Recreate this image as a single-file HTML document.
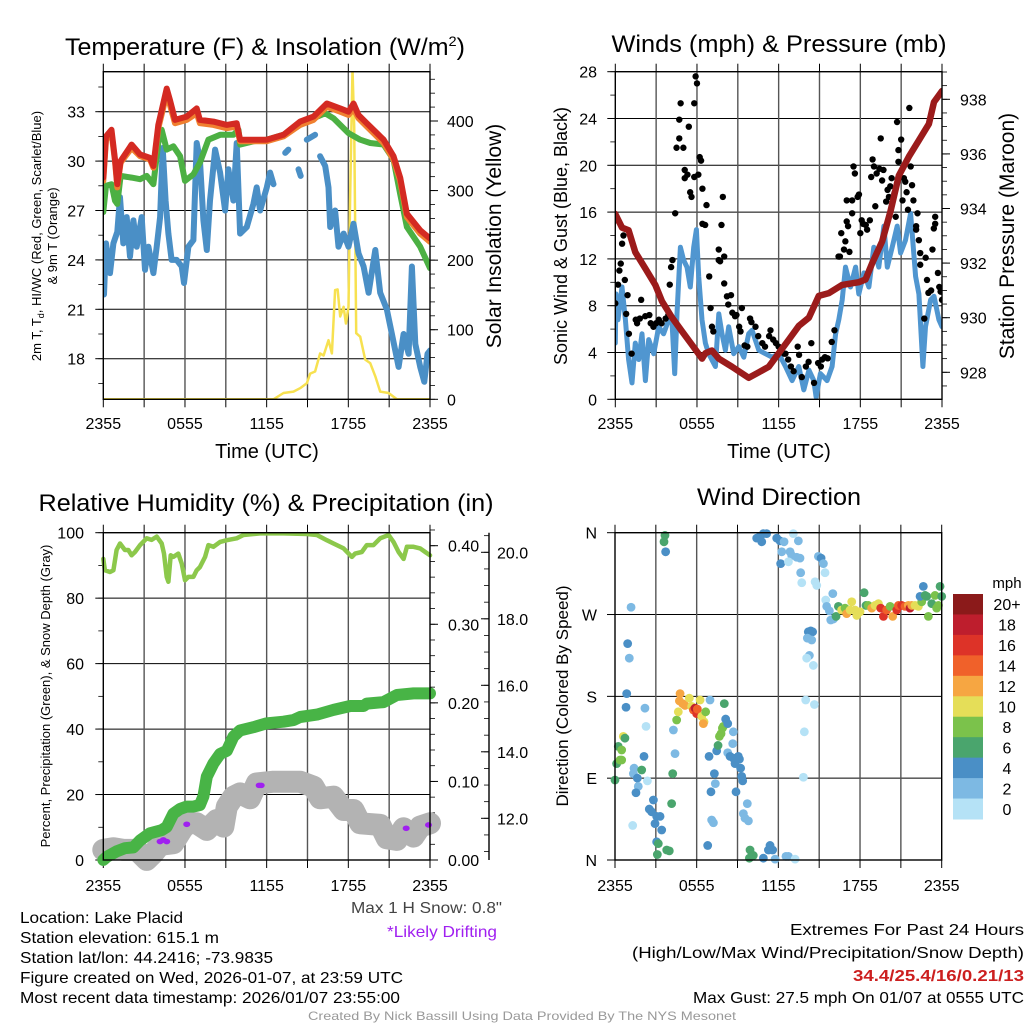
<!DOCTYPE html>
<html><head><meta charset="utf-8"><style>
html,body{margin:0;padding:0;background:#fff;}
svg{display:block;font-family:"Liberation Sans",sans-serif;}
</style></head><body>
<svg id="chart" width="1024" height="1024" viewBox="0 0 1024 1024" xmlns="http://www.w3.org/2000/svg">
<defs>
<clipPath id="c1"><rect x="103.3" y="71.7" width="326.7" height="327.6"/></clipPath>
<clipPath id="c2"><rect x="615.3" y="71.7" width="326.7" height="327.6"/></clipPath>
<clipPath id="c3"><rect x="90" y="532.7" width="352" height="340"/></clipPath>
</defs>
<text x="65" y="55" font-size="24" textLength="400" lengthAdjust="spacingAndGlyphs">Temperature (F) &amp; Insolation (W/m<tspan dy="-9" font-size="14">2</tspan><tspan dy="9">)</tspan></text>
<text x="779" y="52" font-size="24" text-anchor="middle" textLength="335" lengthAdjust="spacingAndGlyphs">Winds (mph) &amp; Pressure (mb)</text>
<text x="266" y="511" font-size="24" text-anchor="middle" textLength="455" lengthAdjust="spacingAndGlyphs">Relative Humidity (%) &amp; Precipitation (in)</text>
<text x="779" y="505" font-size="24" text-anchor="middle" textLength="164" lengthAdjust="spacingAndGlyphs">Wind Direction</text>

<text transform="translate(41,236) rotate(-90)" font-size="13" text-anchor="middle">2m T, T<tspan font-size="9" dy="3">d</tspan><tspan dy="-3">, HI/WC (Red, Green, Scarlet/Blue)</tspan></text>
<text transform="translate(57,236) rotate(-90)" font-size="13" text-anchor="middle">&amp; 9m T (Orange)</text>
<text transform="translate(501,236) rotate(-90)" font-size="21" text-anchor="middle">Solar Insolation (Yellow)</text>
<text x="267" y="458" font-size="20" text-anchor="middle">Time (UTC)</text>
<text transform="translate(567,236) rotate(-90)" font-size="18" text-anchor="middle">Sonic Wind &amp; Gust (Blue, Black)</text>
<text transform="translate(1014,236) rotate(-90)" font-size="21" text-anchor="middle">Station Pressure (Maroon)</text>
<text x="779" y="458" font-size="20" text-anchor="middle">Time (UTC)</text>
<text transform="translate(50,696) rotate(-90)" font-size="13" text-anchor="middle">Percent, Precipitation (Green), &amp; Snow Depth (Gray)</text>
<text transform="translate(568,696) rotate(-90)" font-size="17" text-anchor="middle">Direction (Colored By Speed)</text>

<g font-size="16">
<text x="20" y="923" textLength="163" lengthAdjust="spacingAndGlyphs">Location: Lake Placid</text>
<text x="20" y="943" textLength="199" lengthAdjust="spacingAndGlyphs">Station elevation: 615.1 m</text>
<text x="20" y="963" textLength="253" lengthAdjust="spacingAndGlyphs">Station lat/lon: 44.2416; -73.9835</text>
<text x="20" y="983" textLength="383" lengthAdjust="spacingAndGlyphs">Figure created on Wed, 2026-01-07, at 23:59 UTC</text>
<text x="20" y="1003" textLength="380" lengthAdjust="spacingAndGlyphs">Most recent data timestamp: 2026/01/07 23:55:00</text>
<text x="351" y="913" fill="#444" textLength="151" lengthAdjust="spacingAndGlyphs">Max 1 H Snow: 0.8"</text>
<text x="387" y="937" fill="#a020f0" textLength="110" lengthAdjust="spacingAndGlyphs">*Likely Drifting</text>
<text x="790" y="935" textLength="234" lengthAdjust="spacingAndGlyphs">Extremes For Past 24 Hours</text>
<text x="632" y="958" textLength="392" lengthAdjust="spacingAndGlyphs">(High/Low/Max Wind/Precipitation/Snow Depth)</text>
<text x="853" y="981" fill="#cc1f1f" font-weight="bold" textLength="171" lengthAdjust="spacingAndGlyphs">34.4/25.4/16/0.21/13</text>
<text x="693" y="1003" textLength="331" lengthAdjust="spacingAndGlyphs">Max Gust: 27.5 mph On 01/07 at 0555 UTC</text>
</g>
<text x="308" y="1020" font-size="12" fill="#999" textLength="428" lengthAdjust="spacingAndGlyphs">Created By Nick Bassill Using Data Provided By The NYS Mesonet</text>
<g id="layer"></g>
</svg>
<script>
// ---------- DATA ----------
const timeTicks = [0, 6, 12, 18, 24];
const timeTickLabels = ["2355", "0555", "1155", "1755", "2355"];
const tempTicks = [18, 21, 24, 27, 30, 33];
const insolTicks = [0, 100, 200, 300, 400];
const windTicks = [0, 4, 8, 12, 16, 20, 24, 28];
const presTicks = [928, 930, 932, 934, 936, 938];
const rhTicks = [0, 20, 40, 60, 80, 100];
const precipTicks = [0, 0.1, 0.2, 0.3, 0.4];
const precipTickLabels = ["0.00", "0.10", "0.20", "0.30", "0.40"];
const snowTicks = [12, 14, 16, 18, 20];
const snowTickLabels = ["12.0", "14.0", "16.0", "18.0", "20.0"];
const dirTicks = [0, 90, 180, 270, 360];
const dirTickLabels = ["N", "E", "S", "W", "N"];

const redHours = [0,0.2,0.6,0.86,1.03,1.27,2.08,2.7,3.43,3.68,4.04,4.66,4.9,5.27,6.13,6.86,7.1,8.09,9.07,9.8,10.05,11.03,12.0,13.24,14.46,15.44,16.42,17.4,18.01,18.38,18.75,19.36,20.59,21.32,21.81,22.3,23.28,24];
const redTemp = [29.0,31.5,31.9,30.1,28.6,30.0,31.0,30.4,30.2,29.7,32.2,34.4,33.7,32.5,32.7,33.2,32.5,32.4,32.2,32.3,31.3,31.3,31.3,31.6,32.4,32.7,33.5,33.2,33.0,33.5,32.8,32.3,31.3,30.3,29.0,26.8,25.8,25.3];
const orangeTemp = [28.8,31.3,31.7,30.0,28.4,29.9,30.8,30.3,30.1,29.6,32.0,34.1,33.4,32.3,32.5,32.9,32.3,32.2,32.0,32.1,31.2,31.2,31.2,31.5,32.2,32.5,33.3,33.0,32.8,33.2,32.6,32.1,31.1,30.1,28.8,26.6,25.6,25.1];
const greenHours = [0,0.2,0.6,0.86,1.03,1.27,2.08,2.7,3.19,3.68,4.04,4.29,4.66,5.15,5.64,6.0,6.62,7.1,7.72,8.58,9.56,9.93,10.05,11.03,12.0,13.24,14.46,15.44,16.3,16.91,18.01,18.87,19.61,20.59,21.32,21.81,22.3,23.28,24];
const greenTemp = [26.9,28.5,28.6,27.6,27.4,29.1,29.0,28.9,29.1,28.6,31.1,31.9,30.7,30.9,30.3,28.8,29.2,29.9,31.3,31.6,31.6,31.9,31.0,31.2,31.3,31.6,32.2,32.6,32.9,32.6,31.7,31.3,31.1,31.0,30.1,28.0,26.0,24.8,23.5];
const blueHours = [0,0.05,0.2,0.49,0.74,1.03,1.23,1.47,1.72,1.96,2.21,2.45,2.82,3.06,3.31,3.68,3.92,4.17,4.36,4.58,4.78,5.02,5.39,5.76,5.93,6.25,6.62,6.86,7.1,7.35,7.6,7.84,8.21,8.58,8.95,9.19,9.56,9.8,10.05,10.54,11.03,11.27,11.52,12.01,12.25,12.5,12.9,13.36,13.6,14.0,14.34,14.5,14.8,14.95,15.56,15.8,15.93,16.3,16.54,16.67,17.03,17.28,17.65,18.01,18.38,18.75,19.12,19.49,19.98,20.34,20.83,21.2,21.69,22.06,22.43,22.67,22.92,23.28,23.58,23.82,24];
const blueTemp = [23.8,21.9,25.0,23.2,25,25.7,27.8,25,26.6,24.2,26.4,24.8,26.6,23.4,24.8,23.2,24.8,26.6,30.8,27.6,25.6,24,24,23.6,22.6,24.8,25.2,31.1,30.1,26.4,24.6,27.6,30.7,29.3,27,29.5,27.6,31.1,25.6,26,27.4,28.4,27,28.4,29.3,28.6,null,30.5,30.7,null,29.5,29.1,null,31.3,31.6,null,30.3,29.7,28.4,26,27,24.8,25.6,24.8,26.2,24.4,23.6,22,24.6,22,21,19.5,17.5,19.5,18.3,23.6,18.9,17.5,16.6,18.3,18.5];
const insolHours = [0,12.5,13.24,13.97,14.46,14.95,15.2,15.56,15.93,16.18,16.54,16.79,17.03,17.21,17.4,17.65,17.82,18.01,18.14,18.31,18.43,18.58,18.87,19.24,19.61,19.98,20.34,20.96,21.57,24];
const insolValues = [0,0,9,11,16,23,37,40,66,63,85,66,157,158,119,133,109,133,296,475,392,95,90,57,52,33,11,9,0,0];

const windHours = [0,0.05,0.2,0.49,0.74,0.98,1.23,1.47,1.72,1.96,2.21,2.45,2.82,3.19,3.55,3.92,4.17,4.36,4.53,4.78,5.02,5.27,5.51,5.76,5.96,6.13,6.37,6.62,6.86,7.35,7.6,7.84,8.09,8.33,8.7,9.07,9.44,9.8,10.05,10.54,11.03,11.52,12.01,12.5,12.99,13.48,13.85,14.22,14.58,14.75,15.07,15.56,15.93,16.18,16.42,16.67,16.91,17.28,17.65,17.89,18.26,18.63,18.99,19.36,19.73,19.98,20.34,20.71,20.96,21.32,21.69,22.06,22.3,22.6,22.79,23.16,23.41,23.77,24];
const windSpeed = [4.8,9,6.8,9.6,6.8,3.4,1.4,4.8,3.4,5.6,1.6,5.1,3.9,6.2,5.6,6.8,6.5,2.2,7.3,13,11.9,11.3,9.6,13,14.5,10.5,6.8,4.8,3.9,2.8,7.3,5.6,4.2,6.2,3.9,4.5,3.6,5.6,5.9,4.2,3.9,3.6,3.9,2.8,1.6,2.8,0.8,2.5,1.6,0.2,2.2,1.6,2.8,5.6,6.8,8.5,11.3,9.6,11.3,9,10.8,9.6,13,11.3,14.8,11.3,13,14.8,12.5,13.6,15.9,10.5,9,2.8,6.2,8.5,8.8,6.8,6.2];
const presHours = [0,0.49,0.98,1.47,2.21,2.94,3.43,4.17,4.9,5.64,6.37,6.62,7.1,7.6,8.58,9.8,10.54,11.27,12.01,12.75,13.48,14.22,14.95,15.69,16.67,17.89,18.38,18.87,19.61,20.22,20.83,21.57,22.3,23.04,23.41,24];
const presValues = [933.8,933.3,933.2,932.4,931.8,931.2,930.6,930.0,929.5,929.0,928.5,928.7,928.8,928.5,928.2,927.8,928.0,928.2,928.7,929.2,929.7,930.0,930.8,930.9,931.2,931.3,931.4,932.0,932.8,933.9,935.2,935.9,936.5,937.1,937.9,938.3];
const gustHours = [0,0,0.2,0.3,0.4,0.5,0.6,0.7,0.9,0.8,1,1.2,1.5,1.6,1.9,1.8,2.2,2.5,2.6,2.8,3.0,3.2,3.4,3.7,3.9,4.0,4.1,4.2,4.4,4.5,4.7,4.7,4.8,5.0,5.1,5.1,5.3,5.4,5.5,5.6,5.8,5.8,5.9,6.0,6.1,6.2,6.3,6.4,6.4,6.6,6.7,6.9,7.0,7.1,7.2,7.6,7.6,7.7,7.8,7.9,8.0,8.0,8.2,8.3,8.5,8.6,8.8,8.9,9.1,9.2,9.3,9.5,9.7,9.9,10.0,10.3,10.5,10.8,11.0,11.3,11.4,11.6,11.8,12.0,12.4,12.5,12.7,12.9,13.1,13.4,13.5,13.7,14.0,14.2,14.4,14.6,14.9,15.1,15.2,15.4,15.6,15.9,16.1,16.4,16.5,16.6,16.8,16.9,17.0,17.1,17.4,17.0,17.2,17.4,17.5,17.6,17.8,17.9,18.0,18.1,18.2,18.4,18.5,18.7,18.8,18.9,19.0,19.1,19.2,19.4,19.5,19.6,19.7,19.9,20.0,20.1,20.2,20.3,20.5,20.6,20.7,20.8,20.8,21.0,21.1,21.2,21.3,21.4,21.5,21.6,21.7,21.8,21.9,22.1,22.1,22.2,22.3,22.4,22.4,22.8,22.9,23.0,23.2,23.3,23.4,23.5,23.5,23.7,23.8,23.9,24.0,22.7];
const gustSpeed = [8.2,15.3,9.8,11,11.6,13.3,14,10.2,8.9,7.3,5.6,3.9,6.8,6.5,8.5,6.9,7.1,7.2,6.5,6.2,6.5,6.8,6.5,6.9,7.2,9.8,11.3,11.9,15.9,21.5,22.3,23.9,25.3,21.5,19.6,18.9,19.2,23.3,17.7,17.3,19,25.3,27.6,27,19.2,20.7,20.4,18,15,14.9,16.6,10.5,7.8,6.2,5.8,12.8,11.9,11.8,14.9,17.3,12.2,9.9,8.8,8.1,8.9,7.4,7.1,7.2,6.2,5.8,7.8,4.6,4.5,6.9,6.6,6.2,5.4,4.8,4.5,5.4,5.9,5.1,4.8,4.5,3.9,3.9,3.4,2.8,2.4,4.5,3.8,1.9,2.8,3.2,4.8,1.4,3.1,2.8,3.4,3.6,3.5,4.9,5.9,12.2,12.2,14.2,12.8,13.5,15.2,14.8,15.9,17,12.6,17,19.9,19.3,17.3,17.5,14.2,15.3,15,14.9,14.5,15.3,19,20.5,19.9,16.5,19.3,19.7,22.3,18.7,19.6,16.9,17.9,17.3,18.2,18.9,17.6,15.6,23.7,21.3,20.3,22.2,17,18.9,18.6,17.7,16.2,24.9,19.9,18.3,17,14.5,14.8,15.9,13.6,12.5,11.5,12.1,10.2,9.1,9.3,12.8,14.6,15,15.6,10.8,9.6,9.2,8.5,6.9];

const rhHours = [0,0.12,0.49,0.74,0.98,1.23,1.59,1.84,2.08,2.33,2.7,3.19,3.55,3.92,4.29,4.46,4.66,4.78,4.95,5.15,5.51,5.76,6.0,6.25,6.62,6.86,7.1,7.48,7.72,8.09,8.58,9.07,9.8,10.29,11.52,13.24,14.95,15.69,16.42,16.91,17.65,18.26,18.5,18.99,19.36,19.85,20.34,20.96,21.32,21.69,22.06,22.3,22.79,23.28,23.65,24];
const rhValues = [92,88.5,88,88.5,94.7,96.7,94.7,94.7,93.1,94.1,96.2,98.3,97.8,98.8,96.7,93.6,86.5,85,93.1,92.6,93.6,90.6,85.5,86.5,86.5,88.5,89.5,92.6,96.2,95.7,97.2,97.7,98.3,99.3,99.8,99.8,99.6,99.3,97.7,96.7,95.2,92.6,93.6,94.1,96.2,96.2,98.3,99.3,97.2,94.1,92,95.7,95.7,95.2,94.1,93.1];
const precipHours = [0,0.25,0.98,1.59,2.21,2.7,3.43,4.29,4.66,5.15,5.64,6.13,6.62,7.1,7.35,7.6,8.09,8.58,9.07,9.56,10.05,11.03,12.01,13.24,13.97,14.46,15.69,16.91,18.14,19.12,19.36,20.59,21.57,22.79,24];
const precipValues = [0,0.004,0.011,0.015,0.016,0.025,0.034,0.038,0.042,0.059,0.065,0.068,0.068,0.07,0.081,0.106,0.123,0.135,0.139,0.157,0.165,0.169,0.174,0.176,0.178,0.182,0.185,0.191,0.196,0.196,0.199,0.201,0.21,0.212,0.212];
const snowHours = [0,0.74,1.47,2.45,3.19,3.68,4.17,5.15,5.76,6.13,6.86,7.6,8.33,8.82,9.07,9.56,10.05,10.78,11.27,12.5,14.46,15.44,15.93,16.91,17.65,18.38,18.87,20.34,20.83,21.57,22.06,22.79,23.28,24];
const snowValues = [11.05,11.1,11.05,11.05,10.75,10.95,11.2,11.25,11.65,11.85,11.85,11.65,11.95,11.75,12.35,12.65,12.75,12.6,13.05,13.1,13.1,12.95,12.6,12.65,12.25,12.25,11.85,11.8,11.4,11.35,11.7,11.45,11.75,11.85];
const driftHours = [4.17,4.41,4.66,6.13,11.45,11.6,22.25,23.89];
const driftSnow = [11.3,11.35,11.3,11.82,12.99,12.99,11.7,11.8];

const dirHours = [0,0.12,0.24,0.49,0.37,0.49,0.61,0.73,0.86,0.81,0.93,1.05,1.18,1.4,1.35,1.64,1.71,1.54,1.96,2.13,2.2,2.28,2.38,1.3,2.52,2.69,2.82,3.06,3.31,2.94,3.43,3.06,3.18,3.11,3.8,3.99,3.67,3.6,3.72,4.16,4.24,4.29,4.41,4.53,4.65,4.78,4.73,4.97,5.14,5.46,5.63,5.76,5.88,6.0,6.05,6.25,6.37,6.54,6.66,6.49,6.98,6.91,7.1,7.23,7.3,7.37,7.05,6.81,7.47,7.57,7.67,7.79,7.89,7.96,8.03,8.13,8.28,8.69,8.65,8.28,8.45,8.69,8.82,9.06,9.14,9.23,9.31,9.38,8.89,9.72,9.43,9.55,9.8,9.92,10.04,10.16,9.87,10.9,11.27,11.39,11.58,11.76,12.56,12.74,13.23,
10.41,10.65,10.9,11.14,10.78,11.88,12.12,12.42,13.1,13.47,12.25,12.17,12.86,12.98,12.74,13.35,13.59,13.64,13.72,14.7,14.82,14.94,15.14,15.31,15.43,16.0,15.48,15.55,15.75,15.85,16.04,16.24,16.41,16.65,16.9,17.02,17.27,17.39,17.63,17.76,18.0,18.3,18.44,18.61,18.86,19.1,19.35,19.52,19.72,19.96,20.21,20.4,20.7,20.82,21.06,21.31,21.55,21.67,21.8,22.04,22.29,22.53,22.41,22.65,22.78,22.9,23.02,23.27,23.51,23.63,23.88,24.0,23.76,
14.2,14.38,14.52,14.13,14.45,14.28,14.08,14.57,14.01,14.65,13.91,13.84];
const dirDeg = [88,106,125,121,110,110,136,134,183,168,238,222,278,101,95,90,81,74,99,114,167,147,87,38,56,53,66,48,48,40,33,20,18,6,11,10,357,350,339,62,95,143,117,154,163,183,175,172,170,178,169,165,167,161,166,176,158,152,163,150,176,114,44,41,95,84,75,16,120,126,136,139,145,147,172,155,150,141,128,118,114,112,106,114,111,101,92,87,75,62,51,46,43,11,4,5,2,2,11,16,11,1,4,4,1,
354,356,359,359,350,354,351,350,359,351,339,326,339,335,328,333,332,316,305,306,302,334,332,326,316,293,286,279,274,264,265,268,279,275,277,271,275,284,275,269,273,294,280,280,277,280,282,277,268,275,279,268,275,280,280,279,280,277,280,280,279,284,290,301,291,290,268,282,291,277,301,290,280,
251,252,251,244,242,225,222,214,176,171,141,91];
const dirSpeed = [7,6,6,8,8,8,10,6,4,4,4,2,2,2,2,4,2,4,6,4,2,1,1,1,4,4,4,4,4,4,4,4,6,6,6,6,6,6,4,6,6,2,2,8,10,13,12,13,12,10,10,14,18,16,14,10,10,10,8,12,2,4,2,2,4,2,4,4,4,6,8,8,8,8,6,4,4,2,2,2,4,4,4,4,4,4,4,4,4,2,2,2,2,6,6,6,6,4,4,4,4,2,2,2,1,
4,4,4,4,4,4,4,2,1,2,2,4,2,2,1,2,2,2,1,1,1,2,4,2,1,2,1,2,2,2,2,6,6,10,8,12,10,10,10,10,10,6,6,8,12,10,10,16,16,14,8,12,16,14,16,14,12,18,12,10,10,8,4,4,6,6,8,6,8,8,6,6,8,
4,4,4,2,2,2,1,1,1,1,1,1];
const speedColors = ["#b5e2f6","#7db9e3","#4a8fc6","#4aa56d","#7bc24b","#e5de58","#f6a642","#f0612a","#dd3328","#be1e2d","#8b1a1a"];
const colorbarLabels = ["0","2","4","6","8","10","12","14","16","18","20+"];

// ---------- HELPERS ----------
const NS = "http://www.w3.org/2000/svg";
const layer = document.getElementById("layer");
function el(tag, attrs, parent) {
  const e = document.createElementNS(NS, tag);
  for (const k in attrs) e.setAttribute(k, attrs[k]);
  (parent || layer).appendChild(e);
  return e;
}
function linScale(d0, d1, r0, r1) { return v => r0 + (v - d0) / (d1 - d0) * (r1 - r0); }
function pathD(xs, ys, sx, sy) {
  let d = "", pen = false;
  for (let i = 0; i < Math.min(xs.length, ys.length); i++) {
    if (ys[i] === null) { pen = false; continue; }
    d += (pen ? "L" : "M") + sx(xs[i]).toFixed(1) + "," + sy(ys[i]).toFixed(1);
    pen = true;
  }
  return d;
}
function drawFrame(x0, x1, y0, y1, name) {
  const r = el("rect", {x: x0, y: y0, width: x1 - x0, height: y1 - y0, fill: "none", stroke: "#000", "stroke-width": 1.4});
  
  
}
function vGrid(x0, x1, y0, y1, sx, name) {
  const g = el("g", {});
  
  
  for (let h = 3; h < 24; h += 3) {
    el("line", {x1: sx(h), x2: sx(h), y1: y0, y2: y1, stroke: "#555", "stroke-width": 1.4}, g);
  }
  for (let h = 0; h <= 24; h += 3) {
    el("line", {x1: sx(h), x2: sx(h), y1: y0 - 8, y2: y0, stroke: "#000", "stroke-width": 1}, g);
    el("line", {x1: sx(h), x2: sx(h), y1: y1, y2: y1 + 8, stroke: "#000", "stroke-width": 1}, g);
  }
}
function hGrid(vals, sy, x0, x1, name) {
  const g = el("g", {});
  
  
  vals.forEach(v => el("line", {x1: x0, x2: x1, y1: sy(v), y2: sy(v), stroke: "#000", "stroke-width": 1}, g));
}
function yAxis(ticks, labels, sy, ax, dir, minorStep, lo, hi, name, labelX, anchor) {
  const g = el("g", {});
  
  
  ticks.forEach((v, i) => {
    el("line", {x1: ax, x2: ax + dir * 8, y1: sy(v), y2: sy(v), stroke: "#000", "stroke-width": 1}, g);
    const t = el("text", {x: labelX, y: sy(v) + 6, "font-size": 16, "text-anchor": anchor}, g);
    t.textContent = labels[i];
  });
  if (minorStep) {
    for (let v = Math.ceil(lo / minorStep) * minorStep; v <= hi + 1e-9; v += minorStep) {
      el("line", {x1: ax, x2: ax + dir * 5, y1: sy(v), y2: sy(v), stroke: "#000", "stroke-width": 0.8}, g);
    }
  }
}
function xLabels(sx, y, name) {
  const g = el("g", {});
  
  
  timeTicks.forEach((h, i) => {
    const t = el("text", {x: sx(h), y: y, "font-size": 16, "text-anchor": "middle"}, g);
    t.textContent = timeTickLabels[i];
  });
}
function series(xs, ys, sx, sy, color, w, clip, name) {
  const p = el("path", {d: pathD(xs, ys, sx, sy), fill: "none", stroke: color, "stroke-width": w, "stroke-linejoin": "round", "stroke-linecap": "round", "clip-path": clip ? "url(#" + clip + ")" : ""});
  
  
  return p;
}

// ---------- PANEL 1 ----------
const x1s = linScale(0, 24, 103.3, 430);
const t1s = linScale(33, 18, 111.7, 358.7);
const i1s = linScale(0, 400, 399.3, 121);
hGrid(tempTicks, t1s, 103.3, 430, "temp-h-grid");
vGrid(103.3, 430, 71.7, 399.3, x1s, "temp-v-grid");
yAxis(tempTicks, tempTicks.map(String), t1s, 103.3, -1, 1.5, 15.6, 35.4, "temp-y-axis", 85, "end");
yAxis(insolTicks, insolTicks.map(String), i1s, 430, 1, 20, 0, 470, "insolation-y-axis", 447, "start");
xLabels(x1s, 429, "temp-x-axis");
series(insolHours, insolValues, x1s, i1s, "#f7e150", 2.5, "c1", "insolation-line");
series(blueHours, blueTemp, x1s, t1s, "#4a8fc6", 6, "c1", "windchill-line");
series(greenHours, greenTemp, x1s, t1s, "#4cb043", 6, "c1", "dewpoint-line");
series(redHours, orangeTemp, x1s, t1s, "#f08030", 6, "c1", "temp-9m-line");
series(redHours, redTemp, x1s, t1s, "#d42a22", 6, "c1", "temp-2m-line");
drawFrame(103.3, 430, 71.7, 399.3, "temp-plot-frame");

// ---------- PANEL 2 ----------
const x2s = linScale(0, 24, 615.3, 942);
const w2s = linScale(0, 28, 399.3, 71.7);
const p2s = linScale(938, 928, 99.3, 372.3);
hGrid(windTicks.slice(1, 7), w2s, 615.3, 942, "wind-h-grid");
vGrid(615.3, 942, 71.7, 399.3, x2s, "wind-v-grid");
yAxis(windTicks, windTicks.map(String), w2s, 615.3, -1, 2, 0, 28, "wind-y-axis", 597, "end");
yAxis(presTicks, presTicks.map(String), p2s, 942, 1, 0.5, 927.1, 939, "pressure-y-axis", 960, "start");
xLabels(x2s, 429, "wind-x-axis");
series(windHours, windSpeed, x2s, w2s, "#5096d0", 5, "c2", "wind-speed-line");
const gustG = el("g", {"clip-path": "url(#c2)"});


for (let i = 0; i < gustHours.length; i++) {
  const c = el("circle", {cx: x2s(gustHours[i]), cy: w2s(gustSpeed[i]), r: 3.2, fill: "#000"}, gustG);
  
  
}
series(presHours, presValues, x2s, p2s, "#9b1b1b", 6.5, "c2", "pressure-line");
drawFrame(615.3, 942, 71.7, 399.3, "wind-plot-frame");

// ---------- PANEL 3 ----------
const x3s = linScale(0, 24, 103.3, 430);
const r3s = linScale(0, 100, 860, 532.7);
const pr3s = linScale(0, 0.4, 860, 545.7);
const s3s = linScale(20, 12, 552.3, 818.3);
hGrid([20, 40, 60, 80], r3s, 103.3, 430, "rh-h-grid");
vGrid(103.3, 430, 532.7, 860, x3s, "rh-v-grid");
yAxis(rhTicks, rhTicks.map(String), r3s, 103.3, -1, 10, 0, 100, "rh-y-axis", 84, "end");
yAxis(precipTicks, precipTickLabels, pr3s, 430, 1, 0.02, 0, 0.42, "precip-y-axis", 448, "start");
const sAx = el("line", {x1: 489, x2: 489, y1: 532.7, y2: 860, stroke: "#000", "stroke-width": 1.4});


yAxis(snowTicks, snowTickLabels, s3s, 489, -1, 0.5, 10.8, 20.5, "snow-y-axis", 497, "start");
xLabels(x3s, 891, "rh-x-axis");
series(snowHours, snowValues, x3s, s3s, "#b3b3b3", 22, "c3", "snow-depth-line");
series(precipHours, precipValues, x3s, pr3s, "#48b446", 12, "c3", "precip-line");
series(rhHours, rhValues, x3s, r3s, "#8cc84b", 4.5, "c3", "rh-line");
const driftG = el("g", {});


for (let i = 0; i < driftHours.length; i++) {
  const c = el("ellipse", {cx: x3s(driftHours[i]), cy: s3s(driftSnow[i]), rx: 3.5, ry: 2.8, fill: "#a020f0"}, driftG);
  
  
}
drawFrame(103.3, 430, 532.7, 860, "rh-plot-frame");

// ---------- PANEL 4 ----------
const x4s = linScale(0, 24, 615, 941.7);
const d4s = linScale(0, 360, 860, 532.7);
hGrid([90, 180, 270], d4s, 615, 941.7, "dir-h-grid");
vGrid(615, 941.7, 532.7, 860, x4s, "dir-v-grid");
yAxis(dirTicks, dirTickLabels, d4s, 615, -1, 0, 0, 0, "dir-y-axis", 597, "end");
xLabels(x4s, 891, "dir-x-axis");
const dirG = el("g", {});


for (let i = 0; i < dirHours.length; i++) {
  const ci = Math.min(10, Math.floor(dirSpeed[i] / 2));
  const c = el("circle", {cx: x4s(dirHours[i]), cy: d4s(dirDeg[i]), r: 4.4, fill: speedColors[ci]}, dirG);
  
  
}
drawFrame(615, 941.7, 532.7, 860, "dir-plot-frame");

// colorbar
const cbG = el("g", {});


const cbTop = 594, cbH = 225 / 11;
for (let k = 0; k < 11; k++) {
  const idx = 10 - k;
  const r = el("rect", {x: 953, y: cbTop + k * cbH, width: 30, height: cbH + 0.5, fill: speedColors[idx]}, cbG);
  
  
  const t = el("text", {x: 1007, y: cbTop + k * cbH + cbH / 2 + 6, "font-size": 16, "text-anchor": "middle"}, cbG);
  t.textContent = colorbarLabels[idx];
}
const mph = el("text", {x: 1007, y: 588, "font-size": 15, "text-anchor": "middle"}, cbG);
mph.textContent = "mph";
</script>
</body></html>
